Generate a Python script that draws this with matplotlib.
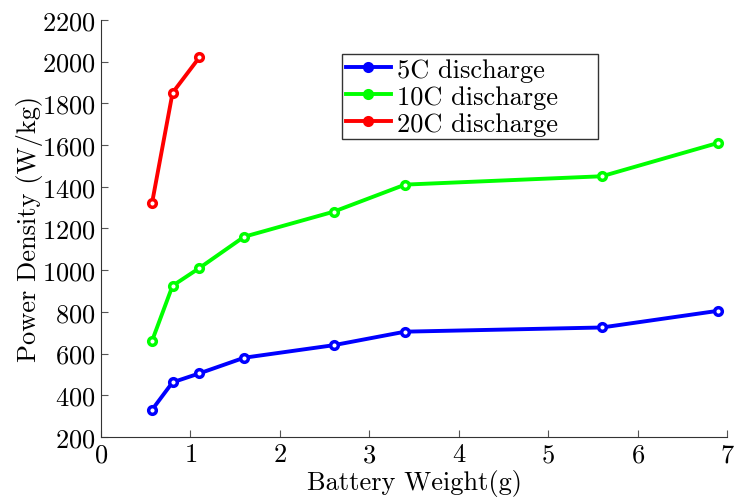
import matplotlib
matplotlib.use("Agg")
import matplotlib.pyplot as plt

plt.rcParams['font.family'] = ['cmr10', 'DejaVu Serif']
plt.rcParams['mathtext.fontset'] = 'cm'
plt.rcParams['axes.formatter.use_mathtext'] = True

weights = [0.57, 0.8, 1.1, 1.6, 2.6, 3.4, 5.6, 6.9]
power_5c = [330, 462, 505, 580, 640, 705, 725, 805]
power_10c = [660, 925, 1010, 1160, 1280, 1410, 1450, 1610]
weights_20c = [0.57, 0.8, 1.1]
power_20c = [1320, 1850, 2020]
labels = ['5C discharge', '10C discharge', '20C discharge']

fig = plt.figure(figsize=(7.34, 5.02), dpi=100)
ax = fig.add_axes([0.1376, 0.1275, 0.853, 0.831])

style = dict(lw=2.8, marker='o', ms=5.5, mew=2.5, mfc='white')
ax.plot(weights, power_5c, color='#0000ff', label=labels[0], **style)
ax.plot(weights, power_10c, color='#00ff00', label=labels[1], **style)
ax.plot(weights_20c, power_20c, color='#ff0000', label=labels[2], **style)

ax.set_xlim(0, 7)
ax.set_ylim(200, 2200)
ax.set_xticks(range(0, 8))
ax.set_yticks(range(200, 2201, 200))
ax.spines['top'].set_visible(False)
ax.spines['right'].set_visible(False)
for s in ['left', 'bottom']:
    ax.spines[s].set_color('#333333')
ax.tick_params(direction='in', length=5, color='#555555', labelsize=19,
               top=False, right=False, pad=4)
ax.set_xlabel('Battery Weight(g)', fontsize=19, labelpad=2)
ax.set_ylabel('Power Density (W/kg)', fontsize=19, labelpad=-1)

leg = ax.legend(loc='upper left', bbox_to_anchor=(0.385, 0.918, 0.409, 0.0),
                mode='expand', fontsize=19,
                frameon=True, fancybox=False, edgecolor='black',
                handlelength=1.7, handletextpad=0.25, borderpad=0.15,
                labelspacing=0.12, borderaxespad=0.0)
for h in leg.legend_handles:
    h.set_markerfacecolor(h.get_color())
leg.get_frame().set_linewidth(1.0)

fig.savefig('out.png', dpi=100)
